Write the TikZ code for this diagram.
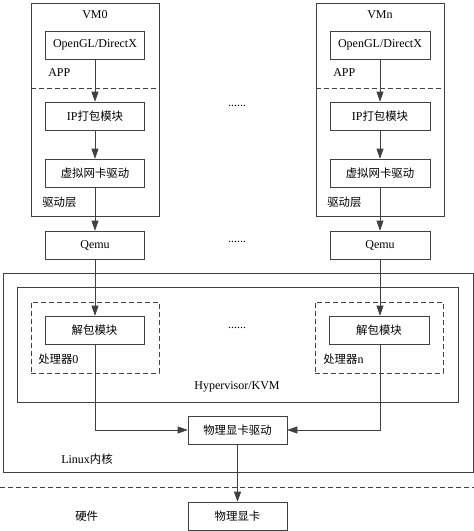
\documentclass[tikz,border=0pt]{standalone}
\usepackage{fontspec}
\setmainfont{Liberation Serif}
\newfontfamily\cjk[Scale=0.95]{Noto Sans CJK SC}
\usetikzlibrary{arrows.meta}
\begin{document}
\begin{tikzpicture}[x=1pt, y=-1pt, line width=0.6pt, draw=black!75,
    >={Triangle[length=10pt, width=7pt]},
    every node/.style={font=\fontsize{12}{14}\selectfont},
    unit/.style={rectangle, draw, minimum width=99pt, minimum height=28pt, inner sep=0pt},
    frame/.style={rectangle, draw, inner sep=0pt},
    dashy/.style={dash pattern=on 5pt off 3pt},
    tag/.style={anchor=west, inner sep=0pt}]
    \useasboundingbox (0,0) rectangle (474,531);

    % Frames
    \node[frame, minimum width=470pt, minimum height=199pt] at (238, 372.5) (linux) {};
    \node[frame, minimum width=441pt, minimum height=115pt] at (237.5, 344.5) (kvm) {};
    \node[frame, minimum width=128pt, minimum height=213pt] at (95, 109.5) (vm0) {};
    \node[frame, minimum width=128pt, minimum height=213pt] at (380, 109.5) (vmn) {};
    \node[frame, dashy, minimum width=128pt, minimum height=71pt] at (95, 337.5) (cpu0) {};
    \node[frame, dashy, minimum width=128pt, minimum height=71pt] at (379, 337.5) (cpun) {};

    \draw[dashy] (vm0.west |- 0,88) -- (vm0.east |- 0,88);
    \draw[dashy] (vmn.west |- 0,88) -- (vmn.east |- 0,88);
    \draw[dashy] (0,487) -- (474,487);

    % Nodes
    \node[unit] at (95, 45) (gl0) {OpenGL/DirectX};
    \node[unit] at (95, 116) (ip0) {IP{\cjk 打包模块}};
    \node[unit] at (95, 173) (nic0) {\cjk 虚拟网卡驱动};
    \node[unit] at (95, 245) (qemu0) {Qemu};
    \node[unit] at (94.5, 330) (unp0) {\cjk 解包模块};

    \node[unit, minimum width=100pt] at (380, 45) (gln) {OpenGL/DirectX};
    \node[unit, minimum width=100pt] at (380, 116) (ipn) {IP{\cjk 打包模块}};
    \node[unit, minimum width=100pt] at (380, 173) (nicn) {\cjk 虚拟网卡驱动};
    \node[unit, minimum width=100pt] at (380, 245) (qemun) {Qemu};
    \node[unit, minimum width=100pt] at (379, 330) (unpn) {\cjk 解包模块};

    \node[unit] at (237.5, 430) (drv) {\cjk 物理显卡驱动};
    \node[unit] at (237.5, 516) (card) {\cjk 物理显卡};

    % Labels
    \node at (95, 15) (vm0lbl) {VM0};
    \node at (380, 15) (vmnlbl) {VMn};
    \node[tag] at (48, 73) (app0) {APP};
    \node[tag] at (333, 73) (appn) {APP};
    \node[tag] at (42, 202) (drvl0) {\cjk 驱动层};
    \node[tag] at (327, 202) (drvln) {\cjk 驱动层};
    \node[tag] at (38, 359) (cpu0lbl) {{\cjk 处理器}0};
    \node[tag] at (323, 359) (cpunlbl) {{\cjk 处理器}n};
    \node at (237, 387) (kvmlbl) {Hypervisor/KVM};
    \node[tag] at (61, 459) (linuxlbl) {Linux{\cjk 内核}};
    \node[tag] at (75, 516) (hwlbl) {\cjk 硬件};
    \node at (237, 106) (dots1) {......};
    \node at (237, 242) (dots2) {......};
    \node at (237, 328) (dots3) {......};

    \draw[->] (gl0) edge (ip0);
    \draw[->] (ip0) edge (nic0);
    \draw[->] (nic0) edge (qemu0);
    \draw[->] (qemu0.south) -- (unp0.north -| qemu0.south);

    \draw[->] (gln) edge (ipn);
    \draw[->] (ipn) edge (nicn);
    \draw[->] (nicn) edge (qemun);
    \draw[->] (qemun.south) -- (unpn.north -| qemun.south);

    \draw[->] (unp0.south -| qemu0.south) |- (drv.west);
    \draw[->] (unpn.south -| qemun.south) |- (drv.east);

    \draw[->] (drv) edge (card);
  \end{tikzpicture}
\end{document}
